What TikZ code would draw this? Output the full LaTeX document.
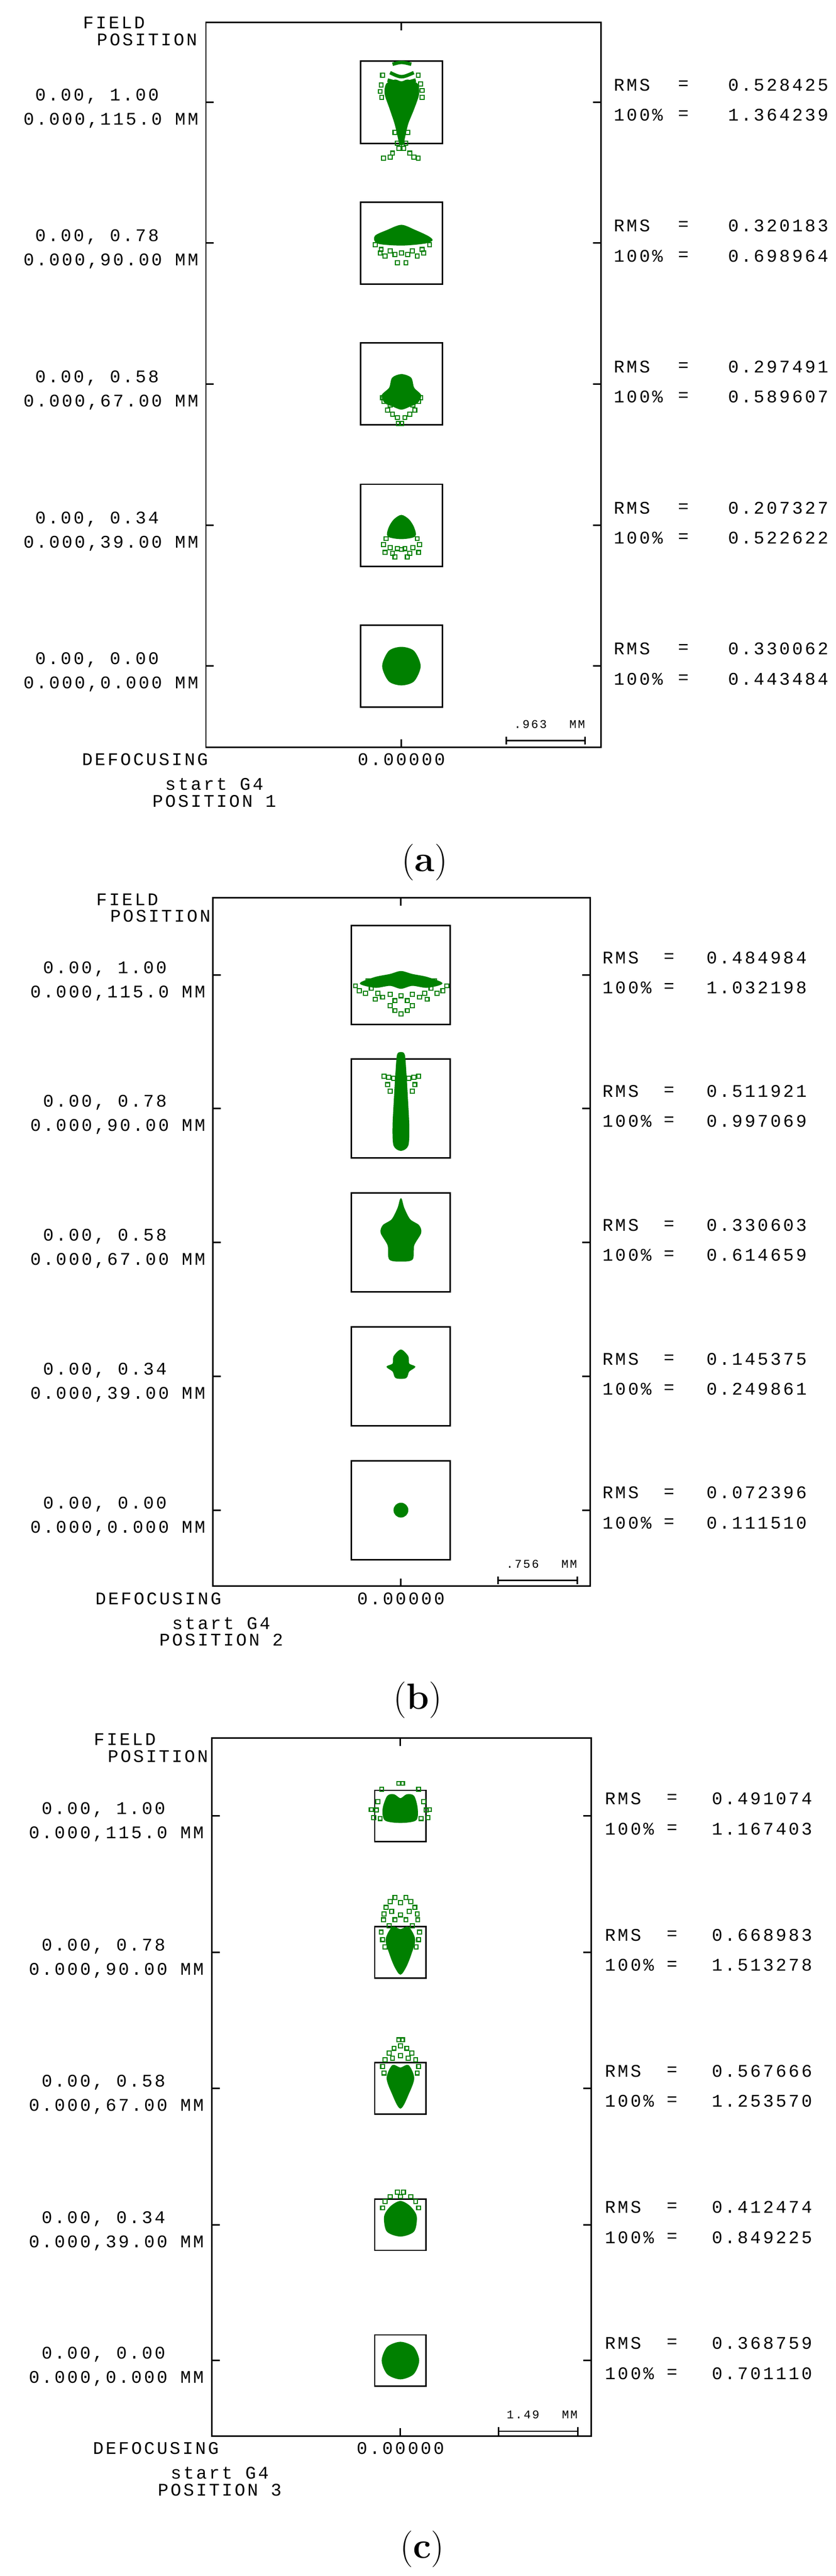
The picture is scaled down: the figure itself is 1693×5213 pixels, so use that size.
\documentclass[tikz,border=0pt]{standalone}
\usepackage{fontspec}
\newfontfamily\zfont[LetterSpace=12]{Liberation Mono}
\definecolor{spotg}{RGB}{0,128,0}
\tikzset{
 frame/.style={line width=3pt,black},
 lab/.style={inner sep=0pt,font=\zfont\fontsize{36}{40}\selectfont},
 slab/.style={inner sep=0pt,font=\zfont\fontsize{24}{26}\selectfont},
 captext/.style={inner sep=0pt,font=\fontsize{74}{80}\selectfont},
 spot/.style={fill=spotg,draw=spotg,line width=2pt},
 spotline/.style={draw=spotg,line width=7pt},
 sqr/.style={draw=spotg,line width=2.2pt},
}
\newcommand\sq[2]{\draw[sqr] (#1-4,#2-4) rectangle (#1+4,#2+4);}
\newcommand\zrow[6]{%
 \draw[frame] (\FL,#2) -- (\FL+16,#2);
 \draw[frame] (\FR,#2) -- (\FR-16,#2);
 \draw[frame] (\CX-\BH,#2-\BH) rectangle (\CX+\BH,#2+\BH);
 \node[lab,anchor=east] (#1a) at (\LA,#2-12) {#3};
 \node[lab,anchor=east] (#1b) at (\LB,#2+37) {#4};
 \node[lab,anchor=west] (#1c) at (\RX,#2-35) {RMS};
 \node[lab,anchor=west] (#1d) at (\EX,#2-35) {=};
 \node[lab,anchor=east] (#1e) at (\VR,#2-35) {#5};
 \node[lab,anchor=west] (#1f) at (\RX,#2+26) {100\%};
 \node[lab,anchor=west] (#1g) at (\EX,#2+26) {=};
 \node[lab,anchor=east] (#1h) at (\VR,#2+26) {#6};
}
\newcommand\zpanel[9]{% #1 id #2 top #3 bottom #4 fieldx #5 fieldy #6 scale label #7 position #8 bar y #9 bar x0
 \draw[frame] (\FL,#2) rectangle (\FR,#3);
 \draw[frame] (\CX,#2) -- (\CX,#2+16);
 \draw[frame] (\CX,#3) -- (\CX,#3-16);
 \node[lab,anchor=west] (#1fa) at (#4,#5) {FIELD};
 \node[lab,anchor=west] (#1fb) at (#4+28,#5+34) {POSITION};
 \node[lab,anchor=west] (#1df) at (#4-2,#3+25) {DEFOCUSING};
 \node[lab] (#1dz) at (\CX,#3+25) {0.00000};
 \node[lab] (#1sg) at (\SGX,#3+75) {start G4};
 \node[lab] (#1ps) at (\SGX,#3+109) {POSITION #7};
 \node[slab,anchor=west] (#1sl) at (#9+16,#8-33) {#6};
 \node[slab,anchor=east] (#1sm) at (#9+160,#8-33) {MM};
 \draw[frame] (#9,#8) -- (#9+160,#8);
 \draw[frame] (#9,#8-8) -- (#9,#8+8);
 \draw[frame] (#9+160,#8-8) -- (#9+160,#8+8);
}
\begin{document}
\begin{tikzpicture}[x=1pt,y=-1pt]
\useasboundingbox[fill=white] (0,0) rectangle (1693,5213);
% ================= panel a
\def\FL{417}\def\FR{1217}\def\CX{813}\def\BH{83}\def\LA{322}\def\LB{402}
\def\RX{1243}\def\EX{1373}\def\VR{1678}\def\SGX{434}
\zpanel{pa}{45}{1512}{168}{46}{.963}{1}{1499}{1025}
\zrow{paA}{207}{0.00, 1.00}{0.000,115.0 MM}{0.528425}{1.364239}
\zrow{paB}{492}{0.00, 0.78}{0.000,90.00 MM}{0.320183}{0.698964}
\zrow{paC}{777}{0.00, 0.58}{0.000,67.00 MM}{0.297491}{0.589607}
\zrow{paD}{1063}{0.00, 0.34}{0.000,39.00 MM}{0.207327}{0.522622}
\zrow{paE}{1348}{0.00, 0.00}{0.000,0.000 MM}{0.330062}{0.443484}
% spots a
\draw[spot] plot[smooth cycle] coordinates {(783,170) (800,162) (813,166) (826,162) (845,170) (848,190) (838,220) (826,250) (820,275) (816,292) (810,292) (806,275) (800,250) (790,220) (780,190)};
\draw[spotline] (795,130) .. controls (813,125) .. (833,130);
\draw[spotline] (790,147) .. controls (813,158) .. (838,147);
\draw[spotline] (785,162) .. controls (813,170) .. (842,162);
\foreach \a/\b in {775/152,847/152,772/172,852/170,770/185,855/183,773/197,855/197,800/268,826/268,805/290,822/290,795/310,830/310,790/318,838/318,777/320,847/320,808/300,818/300} {\sq{\a}{\b}}
\draw[spot] plot[smooth cycle] coordinates {(760,478) (785,466) (813,456) (840,466) (866,478) (875,486) (860,492) (813,496) (765,492)};
\foreach \a/\b in {760/495,870/495,772/505,855/505,790/508,835/508,800/515,826/515,813/512,780/518,845/518,805/532,822/532,770/512,858/512} {\sq{\a}{\b}}
\draw[spot] plot[smooth cycle] coordinates {(795,765) (813,758) (832,765) (838,785) (852,800) (845,815) (830,822) (813,828) (796,822) (780,815) (774,800) (789,785)};
\foreach \a/\b in {775/805,852/805,785/830,840/830,795/838,830/838,805/845,820/845,813/857,807/857,790/820,836/820,778/812,848/812} {\sq{\a}{\b}}
\draw[spot] plot[smooth cycle] coordinates {(813,1043) (828,1052) (838,1068) (840,1085) (813,1090) (786,1085) (788,1068) (798,1052)};
\foreach \a/\b in {782/1090,845/1090,777/1102,850/1102,790/1108,836/1108,805/1110,820/1110,795/1120,830/1120,780/1118,848/1118,813/1112,800/1127,825/1127} {\sq{\a}{\b}}
\draw[spot] plot[smooth cycle] coordinates {(813,1310) (838,1318) (851,1348) (838,1378) (813,1386) (788,1378) (775,1348) (788,1318)};
\node[captext] (capa) at (860,1745) {(\textbf{a})};
% ================= panel b
\def\FL{431}\def\FR{1195}\def\CX{812}\def\BH{100}\def\LA{338}\def\LB{416}
\def\RX{1220}\def\EX{1344}\def\VR{1634}\def\SGX{448}
\zpanel{pb}{1817}{3210}{195}{1820}{.756}{2}{3198}{1009}
\zrow{pbA}{1973}{0.00, 1.00}{0.000,115.0 MM}{0.484984}{1.032198}
\zrow{pbB}{2243}{0.00, 0.78}{0.000,90.00 MM}{0.511921}{0.997069}
\zrow{pbC}{2514}{0.00, 0.58}{0.000,67.00 MM}{0.330603}{0.614659}
\zrow{pbD}{2785}{0.00, 0.34}{0.000,39.00 MM}{0.145375}{0.249861}
\zrow{pbE}{3056}{0.00, 0.00}{0.000,0.000 MM}{0.072396}{0.111510}
\draw[spot] plot[smooth cycle] coordinates {(730,1990) (760,1978) (790,1972) (812,1966) (835,1972) (865,1978) (895,1990) (865,1998) (835,1994) (812,2000) (790,1994) (760,1998)};
\foreach \a/\b in {720/1995,905/1995,728/2005,897/2005,740/2010,885/2010,752/2000,873/2000,765/2010,860/2010,775/2018,850/2018,790/2012,835/2012,800/2025,825/2025,790/2035,835/2035,800/2045,825/2045,812/2052,760/2022,865/2022,745/1985,880/1985,812/2015} {\sq{\a}{\b}}
\draw[spot] plot[smooth cycle] coordinates {(805,2135) (812,2130) (819,2135) (822,2170) (825,2220) (828,2280) (826,2318) (812,2328) (798,2318) (796,2280) (799,2220) (802,2170)};
\foreach \a/\b in {778/2178,787/2180,797/2182,828/2182,838/2180,848/2178,785/2195,840/2195,790/2208,835/2208} {\sq{\a}{\b}}
\draw[spot] plot[smooth cycle] coordinates {(812,2426) (818,2445) (830,2468) (848,2480) (852,2495) (838,2520) (835,2548) (812,2552) (789,2548) (786,2520) (772,2495) (776,2480) (794,2468) (806,2445)};
\draw[spot] plot[smooth cycle] coordinates {(812,2732) (826,2745) (828,2760) (840,2766) (828,2775) (822,2788) (802,2788) (796,2775) (784,2766) (796,2760) (798,2745)};
\draw[spot] (812,3056) circle[radius=14];
\node[captext] (capb) at (846,3440) {(\textbf{b})};
% ================= panel c
\def\FL{429}\def\FR{1197}\def\CX{811}\def\BH{52}\def\LA{335}\def\LB{413}
\def\RX{1225}\def\EX{1350}\def\VR{1645}\def\SGX{445}
\zpanel{pc}{3517}{4930}{190}{3520}{1.49}{3}{4920}{1010}
\zrow{pcA}{3675}{0.00, 1.00}{0.000,115.0 MM}{0.491074}{1.167403}
\zrow{pcB}{3951}{0.00, 0.78}{0.000,90.00 MM}{0.668983}{1.513278}
\zrow{pcC}{4226}{0.00, 0.58}{0.000,67.00 MM}{0.567666}{1.253570}
\zrow{pcD}{4502}{0.00, 0.34}{0.000,39.00 MM}{0.412474}{0.849225}
\zrow{pcE}{4777}{0.00, 0.00}{0.000,0.000 MM}{0.368759}{0.701110}
\draw[spot] plot[smooth cycle] coordinates {(785,3635) (798,3632) (811,3640) (824,3632) (838,3635) (845,3660) (842,3683) (811,3688) (780,3683) (776,3660)};
\foreach \a/\b in {808/3609,815/3609,773/3621,848/3621,765/3646,858/3646,762/3663,863/3663,757/3678,867/3678,770/3680,853/3680,752/3662,870/3662} {\sq{\a}{\b}}
\draw[spot] plot[smooth cycle] coordinates {(795,3900) (811,3905) (827,3900) (840,3925) (832,3955) (822,3980) (811,3995) (800,3980) (790,3955) (782,3925)};
\foreach \a/\b in {800/3840,822/3840,811/3850,790/3848,832/3848,782/3860,840/3860,778/3873,845/3873,793/3868,829/3868,777/3885,846/3885,800/3885,822/3885,811/3875,788/3897,835/3897,772/3910,850/3910,775/3925,848/3925,780/3940,843/3940} {\sq{\a}{\b}}
\draw[spot] plot[smooth cycle] coordinates {(795,4180) (811,4185) (827,4180) (838,4205) (828,4235) (811,4266) (794,4235) (784,4205)};
\foreach \a/\b in {808/4128,815/4128,811/4140,798/4145,824/4145,788/4155,834/4155,780/4168,842/4168,795/4165,827/4165,775/4182,848/4182,778/4195,845/4195,811/4160} {\sq{\a}{\b}}
\draw[spot] plot[smooth cycle] coordinates {(811,4455) (830,4465) (843,4485) (838,4515) (811,4525) (784,4515) (779,4485) (792,4465)};
\foreach \a/\b in {805/4436,817/4436,790/4445,832/4445,780/4455,842/4455,775/4468,848/4468,811/4445} {\sq{\a}{\b}}
\draw[spot] plot[smooth cycle] coordinates {(811,4740) (837,4750) (848,4777) (837,4804) (811,4814) (785,4804) (774,4777) (785,4750)};
\node[captext] (capc) at (855,5159) {(\textbf{c})};
\end{tikzpicture}
\end{document}
